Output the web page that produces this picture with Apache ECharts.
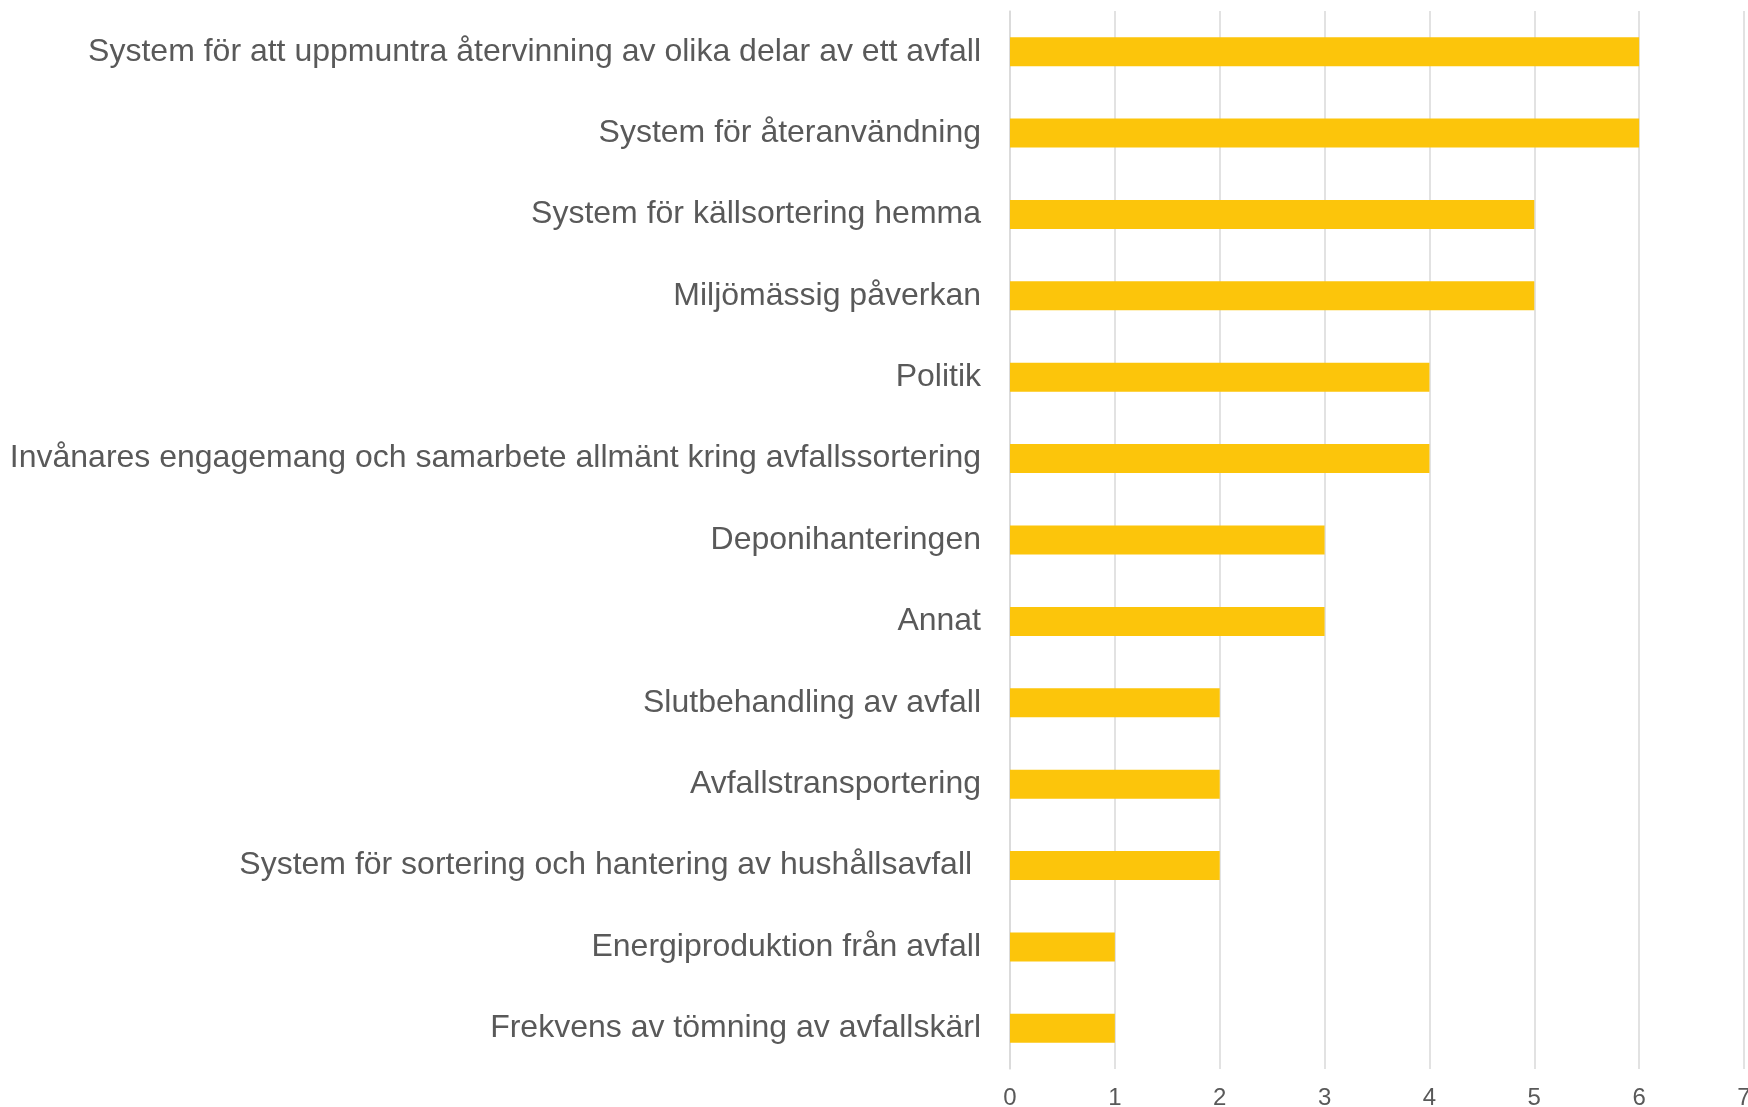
<!DOCTYPE html>
<html>
<head>
<meta charset="utf-8">
<script src="https://cdn.jsdelivr.net/npm/echarts@6/dist/echarts.min.js"></script>
<style>
  html, body { margin: 0; padding: 0; background: #fff; }
  #chart { width: 1748px; height: 1107px; }
</style>
</head>
<body>
<div id="chart"></div>
<script>
// kategorier uppifrån och ner
const categories = [
  'System för att uppmuntra återvinning av olika delar av ett avfall',
  'System för återanvändning',
  'System för källsortering hemma',
  'Miljömässig påverkan',
  'Politik',
  'Invånares engagemang och samarbete allmänt kring avfallssortering',
  'Deponihanteringen',
  'Annat',
  'Slutbehandling av avfall',
  'Avfallstransportering',
  'System för sortering och hantering av hushållsavfall ',
  'Energiproduktion från avfall',
  'Frekvens av tömning av avfallskärl'
];
const values = [6, 6, 5, 5, 4, 4, 3, 3, 2, 2, 2, 1, 1];
const xTicks = { min: 0, max: 7, interval: 1 };

let chart = echarts.init(document.getElementById('chart'));
chart.setOption({
  animation: false,
  grid: {
    left: 1010,
    width: 734,
    top: 11,
    bottom: 38,
    containLabel: false,
    outerBoundsMode: 'none'
  },
  xAxis: {
    type: 'value',
    min: xTicks.min,
    max: xTicks.max,
    interval: xTicks.interval,
    axisLine: { show: false },
    axisTick: { show: false },
    splitLine: {
      show: true,
      lineStyle: { color: '#d9d9d9', width: 1.5 }
    },
    axisLabel: {
      margin: 17,
      color: '#595959',
      fontFamily: 'Liberation Sans, Arial, sans-serif',
      fontSize: 24
    }
  },
  yAxis: {
    type: 'category',
    inverse: true,
    data: categories,
    axisLine: { show: true, lineStyle: { color: '#d9d9d9', width: 1.5 } },
    axisTick: { show: false },
    axisLabel: {
      margin: 29,
      padding: [8, 0, 0, 0],
      color: '#595959',
      fontFamily: 'Liberation Sans, Arial, sans-serif',
      fontSize: 32
    }
  },
  series: [{
    type: 'bar',
    data: values,
    barWidth: 29,
    itemStyle: { color: '#FCC50B' }
  }]
});
</script>
</body>
</html>
